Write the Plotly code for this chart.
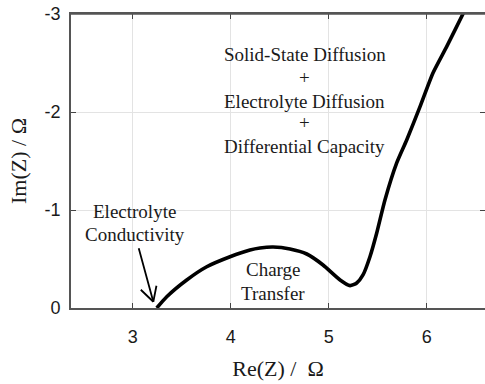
import plotly.graph_objects as go

# Nyquist curve (Re(Z), Im(Z)) in ohm
re_z = [3.245, 3.347, 3.551, 3.755, 3.993, 4.197, 4.299, 4.432, 4.605, 4.776,
        4.942, 5.116, 5.218, 5.286, 5.350, 5.421, 5.490, 5.574, 5.694, 5.796,
        5.932, 6.064, 6.204, 6.370, 6.43]
im_z = [0.0, -0.115, -0.286, -0.421, -0.523, -0.592, -0.612, -0.622, -0.602, -0.551,
        -0.439, -0.286, -0.228, -0.255, -0.337, -0.523, -0.765, -1.102, -1.480, -1.714,
        -2.054, -2.398, -2.667, -3.0, -3.12]

x_ticks = [3, 4, 5, 6]
x_tick_labels = ["3", "4", "5", "6"]
y_ticks = [0, -1, -2, -3]
y_tick_labels = ["0", "-1", "-2", "-3"]
x_range = [2.37, 6.595]
y_range = [0, -3]

SERIF = "Liberation Serif, Times New Roman, serif"
SANS = "Liberation Sans, Arial, sans-serif"

fig = go.Figure()
fig.add_trace(go.Scatter(x=re_z, y=im_z, mode="lines",
                         line=dict(color="black", width=3.6, shape="spline", smoothing=0.6),
                         showlegend=False, hoverinfo="skip"))
# empty trace so the top (mirror) axis is created and drawn
fig.add_trace(go.Scatter(x=[], y=[], xaxis="x2", yaxis="y", mode="lines",
                         showlegend=False, hoverinfo="skip"))

line_style = dict(showline=True, linecolor="#555555", linewidth=1.6,
                  ticks="inside", ticklen=5, tickwidth=1.3, tickcolor="#444444")

axis_common = dict(
    **line_style,
    showgrid=True, gridcolor="#e3e3e3", gridwidth=1,
    zeroline=False, automargin=False, ticklabeloverflow="allow",
    tickfont=dict(family=SANS, size=18, color="#1a1a1a"),
)

fig.update_xaxes(range=x_range, tickvals=x_ticks, ticktext=x_tick_labels,
                 ticklabelstandoff=12, mirror=False,
                 title=dict(text="Re(Z) /\u00a0 Ω", font=dict(family=SERIF, size=22, color="#1a1a1a"),
                            standoff=14),
                 **axis_common)
fig.update_yaxes(range=y_range, tickvals=y_ticks, ticktext=y_tick_labels,
                 ticklabelstandoff=5, mirror="ticks",
                 title=dict(text="Im(Z) / Ω", font=dict(family=SERIF, size=22, color="#1a1a1a"),
                            standoff=12),
                 **axis_common)

# top frame with inward ticks
fig.update_layout(xaxis2=dict(overlaying="x", side="top", anchor="y", range=x_range,
                              tickvals=x_ticks, showticklabels=False, showgrid=False,
                              zeroline=False, automargin=False, title=None, **line_style))
fig.add_shape(type="line", xref="paper", yref="paper", x0=0, x1=1, y0=1, y1=1,
              line=dict(color="#555555", width=1.6), layer="above")

ann_font = dict(family=SERIF, size=19, color="#1a1a1a")
texts = [
    ("Solid-State Diffusion", 4.753, -2.582),
    ("+", 4.753, -2.35),
    ("Electrolyte Diffusion", 4.753, -2.105),
    ("+", 4.753, -1.888),
    ("Differential Capacity", 4.753, -1.646),
    ("Electrolyte", 3.023, -0.983),
    ("Conductivity", 3.023, -0.745),
    ("Charge", 4.435, -0.388),
    ("Transfer", 4.435, -0.15),
]
for t, x, y in texts:
    fig.add_annotation(x=x, y=y, xref="x", yref="y", text=t, showarrow=False,
                       font=ann_font, xanchor="center", yanchor="middle")

# open arrow: shaft + two wings
tip = (3.210, -0.064)
for (tx, ty) in [(3.057, -0.626), (3.067, -0.201), (3.245, -0.242)]:
    fig.add_annotation(x=tip[0], y=tip[1], ax=tx, ay=ty, xref="x", yref="y",
                       axref="x", ayref="y", text="", showarrow=True,
                       arrowhead=0, arrowwidth=1.8, arrowcolor="black")

fig.update_layout(
    width=485, height=384,
    margin=dict(l=71, r=0, t=14, b=76),
    paper_bgcolor="white", plot_bgcolor="white",
    showlegend=False,
)

# remove the browser's default 8px body margin so the figure fills the window
fig.write_html("out.html", config={"displayModeBar": False},
               post_script="document.body.style.margin='0';")
